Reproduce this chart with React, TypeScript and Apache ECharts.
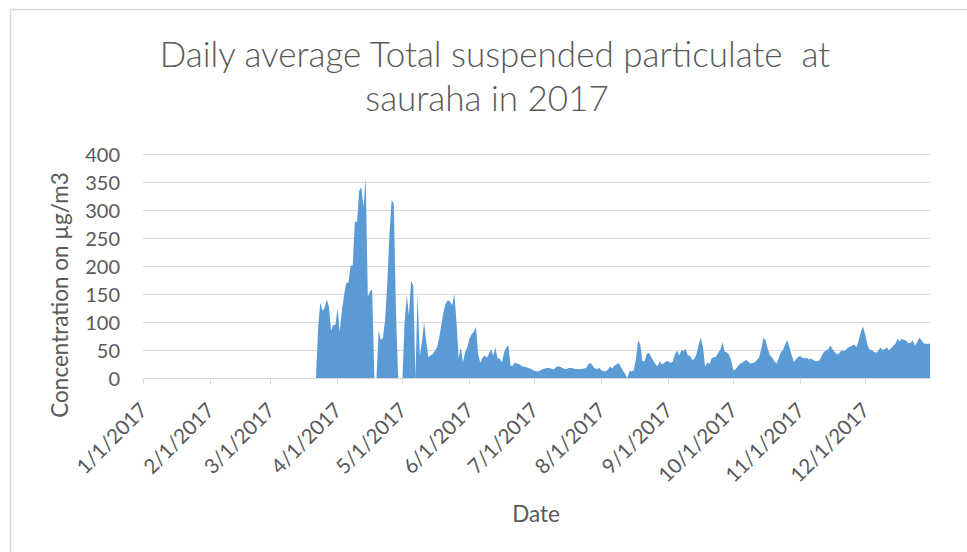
import React, { useEffect, useRef } from "react";
import * as echarts from "echarts";

// Daily average TSP (µg/m3), measurements from 3/22/2017 through 12/31/2017
const firstMeasuredDate = "3/22/2017";
const tsp: number[] = [
  0, 90, 135, 120, 125, 140, 127, 85, 95, 95,
  125, 82, 121, 148, 170, 170, 200, 202, 280, 278,
  335, 340, 305, 358, 145, 155, 158, 0, 0, 85,
  68, 72, 105, 170, 258, 318, 311, 120, 0, 0,
  0, 100, 148, 112, 173, 165, 0, 150, 40, 64,
  100, 65, 37, 40, 43, 48, 55, 72, 95, 118,
  133, 139, 136, 130, 150, 100, 35, 55, 28, 46,
  55, 70, 78, 82, 92, 43, 27, 36, 40, 36,
  43, 52, 40, 55, 35, 35, 28, 45, 55, 58,
  22, 22, 28, 25, 25, 22, 20, 20, 18, 17,
  15, 13, 12, 12, 14, 16, 17, 18, 18, 16,
  15, 19, 21, 20, 18, 16, 16, 18, 18, 17,
  16, 16, 16, 16, 17, 18, 25, 27, 22, 17,
  16, 18, 14, 12, 12, 15, 20, 17, 22, 24,
  27, 20, 13, 7, 0, 12, 12, 14, 35, 68,
  60, 30, 30, 43, 45, 38, 31, 25, 21, 30,
  24, 27, 30, 30, 27, 29, 42, 49, 40, 49,
  48, 52, 40, 40, 32, 34, 43, 60, 72, 55,
  20, 28, 25, 35, 37, 38, 45, 50, 64, 47,
  46, 42, 32, 14, 15, 20, 25, 27, 30, 32,
  29, 26, 27, 28, 32, 37, 53, 72, 67, 52,
  40, 36, 30, 26, 35, 46, 50, 60, 68, 55,
  41, 29, 33, 38, 39, 36, 35, 36, 33, 35,
  32, 30, 30, 32, 40, 47, 49, 52, 58, 51,
  46, 42, 44, 49, 48, 50, 54, 56, 58, 60,
  55, 67, 82, 92, 78, 60, 51, 50, 47, 45,
  48, 55, 50, 52, 55, 49, 53, 57, 61, 70,
  65, 70, 68, 67, 62, 63, 67, 58, 63, 72,
  68, 62, 61, 61, 61,
];

const yTicks = [0, 50, 100, 150, 200, 250, 300, 350, 400];
const titleLines = ["Daily average Total suspended particulate  at", "sauraha in 2017"];
const yAxisTitle = "Concentration on µg/m3";
const xAxisTitle = "Date";

const FONT = "Lato, 'Open Sans', sans-serif";
const TEXT = "#595959";
const GRID = "#d9d9d9";

function buildDates(): string[] {
  const out: string[] = [];
  for (let i = 0; i < 365; i++) {
    const d = new Date(2017, 0, 1 + i);
    out.push(`${d.getMonth() + 1}/${d.getDate()}/2017`);
  }
  return out;
}

export default function App() {
  const ref = useRef<HTMLDivElement>(null);
  useEffect(() => {
    document.body.style.margin = "0";
    if (!ref.current) return;
    const chart = echarts.init(ref.current, undefined, { renderer: "svg" });
    const dates = buildDates();
    const start = dates.indexOf(firstMeasuredDate);
    const seriesData = dates.map((_, i) => (i < start ? null : tsp[i - start] ?? null));
    const isMonthStart = (_i: number, v: string) => String(v).split("/")[1] === "1";
    chart.setOption({
      animation: false,
      backgroundColor: "#ffffff",
      grid: { left: 143, right: 37, top: 154, bottom: 174, containLabel: false },
      xAxis: {
        type: "category",
        data: dates,
        boundaryGap: false,
        axisLine: { show: true, lineStyle: { color: GRID, width: 1 } },
        axisTick: { show: true, interval: isMonthStart, length: 6, lineStyle: { color: GRID } },
        axisLabel: {
          interval: isMonthStart,
          rotate: 45,
          color: TEXT,
          fontSize: 20.5,
          fontFamily: FONT,
          margin: 28,
        },
        splitLine: { show: false },
      },
      yAxis: {
        type: "value",
        min: yTicks[0],
        max: yTicks[yTicks.length - 1],
        interval: 50,
        axisLine: { show: false },
        axisTick: { show: false },
        axisLabel: { color: TEXT, fontSize: 20, fontFamily: FONT, margin: 23 },
        splitLine: { show: true, lineStyle: { color: GRID, width: 1 } },
      },
      series: [
        {
          type: "line",
          data: seriesData,
          showSymbol: false,
          symbol: "none",
          connectNulls: false,
          lineStyle: { width: 0, color: "#5b9bd5" },
          itemStyle: { color: "#5b9bd5" },
          areaStyle: { color: "#5b9bd5", opacity: 1 },
        },
      ],
      graphic: [
        {
          type: "rect",
          shape: { x: 10.5, y: 9.5, width: 1000, height: 600 },
          style: { fill: "none", stroke: GRID, lineWidth: 1.5 },
          silent: true,
        },
        {
          type: "text",
          x: 495,
          y: 53,
          style: {
            text: titleLines[0],
            fill: TEXT,
            font: `300 35px ${FONT}`,
            textAlign: "center",
            textVerticalAlign: "middle",
          },
        },
        {
          type: "text",
          x: 487,
          y: 97,
          style: {
            text: titleLines[1],
            fill: TEXT,
            font: `300 35px ${FONT}`,
            textAlign: "center",
            textVerticalAlign: "middle",
          },
        },
        {
          type: "text",
          x: 59,
          y: 295,
          rotation: Math.PI / 2,
          style: {
            text: yAxisTitle,
            fill: TEXT,
            font: `22.5px ${FONT}`,
            textAlign: "center",
            textVerticalAlign: "middle",
          },
        },
        {
          type: "text",
          x: 536,
          y: 513,
          style: {
            text: xAxisTitle,
            fill: TEXT,
            font: `22.5px ${FONT}`,
            textAlign: "center",
            textVerticalAlign: "middle",
          },
        },
      ],
    });
    return () => chart.dispose();
  }, []);
  return <div ref={ref} style={{ width: 967, height: 552 }} />;
}
